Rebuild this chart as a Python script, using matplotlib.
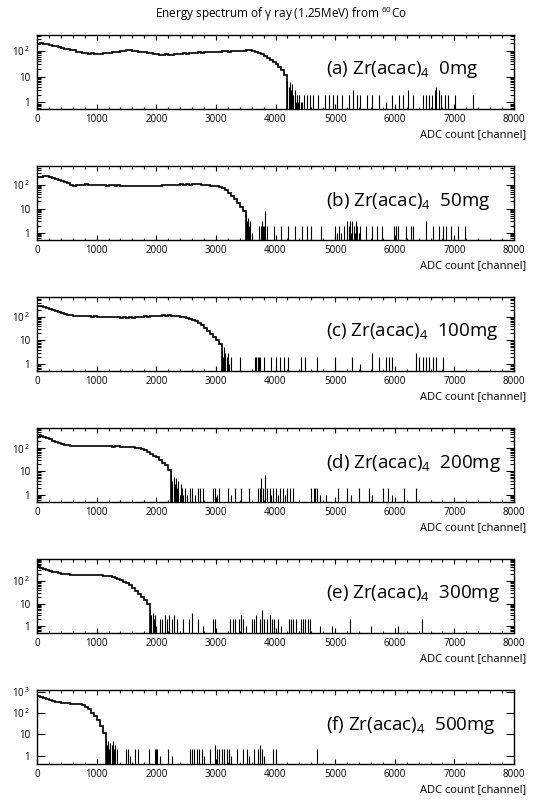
import matplotlib
matplotlib.use('Agg')
import matplotlib.pyplot as plt
import numpy as np
from matplotlib.ticker import FixedLocator, MultipleLocator, FuncFormatter, LogLocator, NullFormatter

plt.rcParams['font.family'] = ['Open Sans', 'DejaVu Sans']
plt.rcParams['mathtext.fontset'] = 'custom'
plt.rcParams['mathtext.rm'] = 'Open Sans'
plt.rcParams['mathtext.it'] = 'Open Sans:italic'
plt.rcParams['mathtext.default'] = 'regular'

# ---- data ----
BIN = 50  # channels per body bin

# (a) 0mg
body_a = [190, 205, 195, 180, 170, 160, 150, 145, 135, 125,
          120, 110, 105, 95, 90, 85, 82, 78, 80, 75,
          78, 76, 80, 82, 85, 88, 92, 90, 98, 100,
          105, 110, 102, 100, 95, 92, 88, 85, 80, 78,
          75, 72, 70, 74, 70, 72, 76, 74, 78, 80,
          78, 82, 85, 82, 88, 86, 90, 88, 92, 90,
          95, 92, 96, 98, 95, 100, 102, 98, 104, 100,
          108, 105, 100, 92, 85, 75, 65, 55, 45, 38,
          30, 24, 18, 12]
tail_a_ch = [4200, 4220, 4240, 4260, 4280, 4300, 4320, 4340, 4360, 4380, 4400, 4420, 4450, 4480,
             4520, 4580, 4630, 4720, 4830, 4900, 4970, 5030, 5110, 5230, 5300, 5370, 5410,
             5540, 5620, 5730, 5850, 5960, 6070, 6130, 6215, 6300, 6470, 6530, 6580, 6630,
             6670, 6700, 6740, 6780, 6850, 6890, 7010, 7320]
tail_a_n = [7, 4, 6, 3, 5, 2, 3, 1, 2, 1, 2, 1, 1, 2,
            2, 2, 2, 2, 2, 2, 2, 2, 2, 2, 3, 2, 2,
            2, 2, 2, 1, 2, 2, 2, 3, 2, 2, 2, 2, 2,
            3, 4, 3, 2, 2, 2, 2, 2]

# (b) 50mg
body_b = [200, 215, 225, 220, 205, 190, 175, 160, 145, 130,
          115, 100, 92, 95, 100, 98, 102, 100, 96, 98,
          95, 100, 97, 92, 95, 93, 90, 94, 90, 92,
          88, 90, 86, 90, 87, 85, 88, 90, 86, 90,
          92, 90, 95, 93, 96, 98, 95, 100, 102, 98,
          104, 100, 106, 102, 105, 100, 98, 95, 90, 88,
          85, 80, 70, 60, 45, 35, 25, 18, 12, 8]
tail_b_ch = [3500, 3520, 3540, 3560, 3580, 3600, 3720, 3750, 3770, 3790, 3800, 3830, 3850,
             3980, 4100, 4210, 4320, 4440, 4520, 4600, 4770,
             5000, 5030, 5060, 5100, 5150, 5200, 5230, 5250, 5270, 5290, 5310, 5330, 5350,
             5370, 5400, 5420, 5510, 5620, 5710, 5790, 5990, 6020, 6050, 6190, 6270, 6300,
             6530, 6640, 6750, 6810, 6860, 6950, 7060, 7180]
tail_b_n = [6, 3, 4, 2, 3, 1, 2, 2, 3, 2, 2, 8, 2,
            2, 2, 2, 2, 2, 2, 2, 2,
            2, 1, 2, 1, 2, 3, 2, 3, 1, 3, 2, 1, 3,
            2, 1, 2, 2, 2, 2, 2, 2, 2, 2, 2, 2, 2,
            3, 2, 2, 2, 2, 2, 2, 2]

# (c) 100mg
body_c = [300, 280, 260, 240, 215, 195, 175, 160, 145, 135,
          125, 118, 112, 110, 106, 108, 104, 106, 102, 104,
          100, 102, 98, 100, 96, 99, 95, 97, 94, 96,
          92, 95, 93, 96, 98, 100, 104, 102, 106, 108,
          110, 112, 115, 112, 116, 110, 108, 104, 100, 95,
          90, 85, 76, 66, 56, 45, 35, 26, 19, 14,
          10, 7]
tail_c_ch = [3100, 3120, 3140, 3160, 3180, 3200, 3220, 3250, 3400,
             3660, 3680, 3700, 3720, 3740, 3800, 3930, 4010, 4070, 4150, 4210,
             4430, 4490, 4690, 5000, 5280, 5420, 5620, 5730, 5850, 5900, 5960,
             6360, 6410, 6470, 6530, 6580, 6640, 6700, 6810]
tail_c_n = [4, 2, 5, 3, 2, 3, 1, 2, 2,
            2, 2, 2, 2, 2, 2, 2, 2, 2, 2, 2,
            2, 2, 2, 2, 2, 1, 3, 2, 2, 2, 2,
            3, 2, 2, 2, 2, 2, 2, 2]

# (d) 200mg
body_d = [300, 320, 300, 270, 240, 210, 185, 165, 150, 140,
          132, 128, 125, 128, 124, 126, 130, 126, 128, 124,
          126, 122, 125, 120, 124, 118, 122, 120, 116, 118,
          115, 112, 108, 104, 98, 90, 80, 68, 58, 48,
          40, 32, 24, 18, 12]
tail_d_ch = [2250, 2270, 2290, 2310, 2330, 2350, 2370, 2390, 2410, 2430, 2450,
             2480, 2520, 2560, 2600, 2650, 2700, 2740, 2780, 2950, 2980, 3020, 3060,
             3200, 3250, 3320, 3420, 3550, 3700, 3740, 3760, 3790, 3830, 3860, 3900,
             3930, 3960, 4000, 4050, 4080, 4120, 4160, 4200, 4250, 4290,
             4600, 4640, 4660, 4700, 4740, 4850, 5050, 5200, 5260, 5400, 5560, 5620,
             5800, 5880, 5960, 6150, 6350]
tail_d_n = [8, 4, 6, 3, 5, 2, 4, 1, 3, 2, 1,
            2, 1, 2, 2, 1, 2, 2, 2, 2, 2, 1, 2,
            2, 1, 2, 2, 2, 2, 2, 5, 2, 7, 2, 2,
            1, 2, 2, 1, 2, 2, 1, 2, 2, 2,
            2, 2, 2, 2, 1, 1, 2, 2, 1, 2, 2, 1,
            2, 2, 1, 2, 2]

# (e) 300mg
body_e = [400, 370, 340, 310, 285, 265, 245, 230, 215, 205,
          198, 195, 192, 190, 188, 190, 186, 188, 185, 184,
          182, 180, 176, 170, 162, 152, 140, 125, 110, 95,
          80, 65, 50, 38, 28, 20, 15, 10]
tail_e_ch = [1900, 1920, 1940, 1960, 1980, 2000, 2060, 2100, 2140, 2180, 2220, 2260, 2300,
             2340, 2450, 2550, 2600, 2700, 2780, 2950, 2980, 3230, 3280, 3320, 3380, 3420,
             3460, 3500, 3600, 3640, 3680, 3740, 3780, 3800, 3860, 3900, 3940, 3980, 4040,
             4100, 4220, 4260, 4300, 4350, 4420, 4460, 4500, 4540, 4580, 4750, 4950, 5250,
             5600, 6050, 6450]
tail_e_n = [5, 3, 4, 2, 3, 1, 2, 2, 3, 2, 3, 2, 3,
            2, 2, 2, 4, 2, 1, 2, 2, 2, 2, 2, 2, 3,
            2, 1, 2, 2, 3, 2, 5, 2, 2, 3, 2, 2, 2,
            1, 2, 2, 2, 2, 2, 2, 2, 2, 2, 1, 1, 2,
            1, 1, 2]

# (f) 500mg
body_f = [600, 560, 510, 460, 420, 380, 345, 320, 300, 285,
          280, 275, 270, 262, 255, 240, 200, 150, 100, 70,
          45, 25, 12]
tail_f_ch = [1150, 1170, 1190, 1210, 1230, 1250, 1270, 1290, 1310, 1350, 1500, 1530, 1560,
             1640, 1700, 1880, 1980, 2000, 2020, 2060, 2200, 2270, 2560, 2600, 2640, 2680,
             2720, 2760, 2800, 2900, 2980, 3020, 3060, 3100, 3140, 3180, 3220, 3260, 3350,
             3450, 3520, 3560, 3640, 3700, 3740, 3770, 3800, 3960, 4000, 4700]
tail_f_n = [6, 3, 5, 2, 4, 3, 5, 2, 3, 2, 2, 2, 1,
            2, 2, 2, 2, 2, 2, 1, 2, 1, 2, 2, 2, 2,
            2, 2, 1, 2, 3, 2, 2, 2, 2, 2, 2, 1, 2,
            2, 2, 1, 2, 2, 3, 2, 1, 2, 2, 2]

bodies = [body_a, body_b, body_c, body_d, body_e, body_f]
tails_ch = [tail_a_ch, tail_b_ch, tail_c_ch, tail_d_ch, tail_e_ch, tail_f_ch]
tails_n = [tail_a_n, tail_b_n, tail_c_n, tail_d_n, tail_e_n, tail_f_n]
tags = ['(a)', '(b)', '(c)', '(d)', '(e)', '(f)']
amounts = ['0mg', '50mg', '100mg', '200mg', '300mg', '500mg']
y_top = [420, 600, 700, 740, 950, 1200]
y_bot = [0.55, 0.5, 0.5, 0.48, 0.5, 0.4]

W, H = 536, 801
fig = plt.figure(figsize=(W / 100, H / 100), dpi=100)

left_px, right_px = 37, 514
top0, step, hgt = 35, 131, 74

ylabels = {1: '1', 10: '10', 100: r'10$^{\,2}$', 1000: r'10$^{\,3}$'}

for i in range(6):
    top = top0 + step * i
    ax = fig.add_axes([left_px / W, 1 - (top + hgt) / H, (right_px - left_px) / W, hgt / H])
    ybot = y_bot[i]

    edges = np.arange(len(bodies[i]) + 1) * BIN
    ax.stairs(bodies[i], edges, baseline=ybot, color='black', lw=1.2)
    ax.vlines(tails_ch[i], ybot, tails_n[i], color='black', lw=0.8)

    ax.set_yscale('log')
    ax.set_xlim(0, 8000)
    ax.set_ylim(ybot, y_top[i])

    ax.xaxis.set_major_locator(MultipleLocator(1000))
    ax.xaxis.set_minor_locator(MultipleLocator(200))
    ax.yaxis.set_major_locator(FixedLocator([1, 10, 100, 1000]))
    ax.yaxis.set_major_formatter(FuncFormatter(lambda v, p: ylabels.get(int(round(v)), '')))
    ax.yaxis.set_minor_locator(LogLocator(base=10, subs=np.arange(2, 10)))
    ax.yaxis.set_minor_formatter(NullFormatter())

    ax.tick_params(axis='both', which='both', direction='in', top=True, right=True,
                   width=0.8, labelsize=7, colors='black')
    ax.tick_params(axis='x', which='major', length=3.6, pad=3.5)
    ax.tick_params(axis='x', which='minor', length=1.8)
    ax.tick_params(axis='y', which='major', length=5.8, pad=5)
    ax.tick_params(axis='y', which='minor', length=2.9)
    for sp in ax.spines.values():
        sp.set_linewidth(1.0)

    ax.text(0.605, 0.53, tags[i] + ' Zr(acac)$_4$  ' + amounts[i], transform=ax.transAxes,
            fontsize=13.5, ha='left', va='center')
    ax.text(1.0 + 12 / (right_px - left_px), -26 / hgt, 'ADC count [channel]',
            transform=ax.transAxes, fontsize=8, ha='right', va='center')

fig.text(281 / W, 1 - 14 / H, r'Energy spectrum of $\gamma$ ray (1.25MeV) from $^{60}$Co',
         fontsize=8.5, ha='center', va='center')

fig.savefig('out.png', dpi=100)
